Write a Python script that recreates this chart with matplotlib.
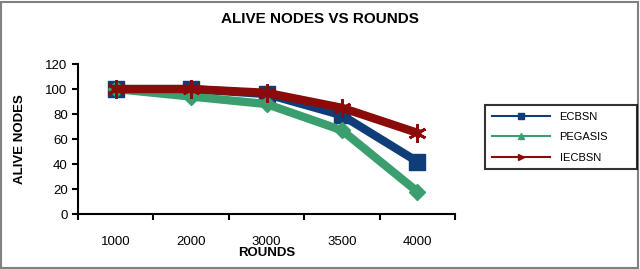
import numpy as np
import matplotlib.pyplot as plt
from matplotlib.patches import Rectangle

plt.rcParams['font.family'] = ['Liberation Sans', 'DejaVu Sans']

# Data
rounds = ['1000', '2000', '3000', '3500', '4000']
ecbsn = [100, 100, 96, 79, 42]
pegasis = [100, 94, 88, 67, 18]
iecbsn = [100, 100, 97, 85, 65]

fig = plt.figure(figsize=(6.4, 2.69), dpi=100)
fig.patches.append(Rectangle((0.002, 0.004), 0.995, 0.99, transform=fig.transFigure,
                             fill=False, edgecolor='#808080', linewidth=1.5))
ax = fig.add_axes([0.122, 0.204, 0.589, 0.558])

x = np.arange(len(rounds))
lw = 6
ax.plot(x, ecbsn, color='#0e3d78', lw=lw, marker='s', ms=12, label='ECBSN')
ax.plot(x, pegasis, color='#3a9e6e', lw=lw, marker='D', ms=8.5, label='PEGASIS')
ax.plot(x, iecbsn, color='#8b0a0a', lw=lw, marker=(6, 2, 0), ms=13, mew=2,
        label='IECBSN')

ax.set_xlim(-0.5, 4.5)
ax.set_ylim(0, 120)
ax.set_yticks(range(0, 121, 20))
ax.set_xticks(x)
ax.set_xticklabels(rounds)
ax.set_xticks(np.arange(-0.5, 5, 1), minor=True)
ax.tick_params(axis='x', which='major', length=0, pad=16, labelsize=9.5)
ax.tick_params(axis='x', which='minor', length=4, width=1.5, direction='out')
ax.tick_params(axis='y', length=4, width=1.5, labelsize=9.5)
for s in ['top', 'right']:
    ax.spines[s].set_visible(False)
for s in ['left', 'bottom']:
    ax.spines[s].set_linewidth(1.5)

ax.set_xlabel('ROUNDS', fontsize=9.5, fontweight='bold', labelpad=-1)
ax.set_ylabel('ALIVE NODES', fontsize=9.5, fontweight='bold', labelpad=14)
fig.suptitle('ALIVE NODES VS ROUNDS', fontsize=11, fontweight='bold', y=0.955)

h = [plt.Line2D([], [], color=c, lw=1.5, marker=m, ms=4)
     for c, m in [('#0e3d78', 's'), ('#3a9e6e', '^'), ('#8b0a0a', '>')]]
leg = fig.legend(h, ['ECBSN', 'PEGASIS', 'IECBSN'], loc='upper left',
                 bbox_to_anchor=(0.758, 0.36, 0.237, 0.25), mode='expand',
                 fontsize=8, frameon=True,
                 fancybox=False, edgecolor='black', handlelength=5.2,
                 borderpad=0.6, labelspacing=0.95, handletextpad=0.9,
                 borderaxespad=0)
leg.get_frame().set_linewidth(1.5)

fig.savefig('out.png', dpi=100)
